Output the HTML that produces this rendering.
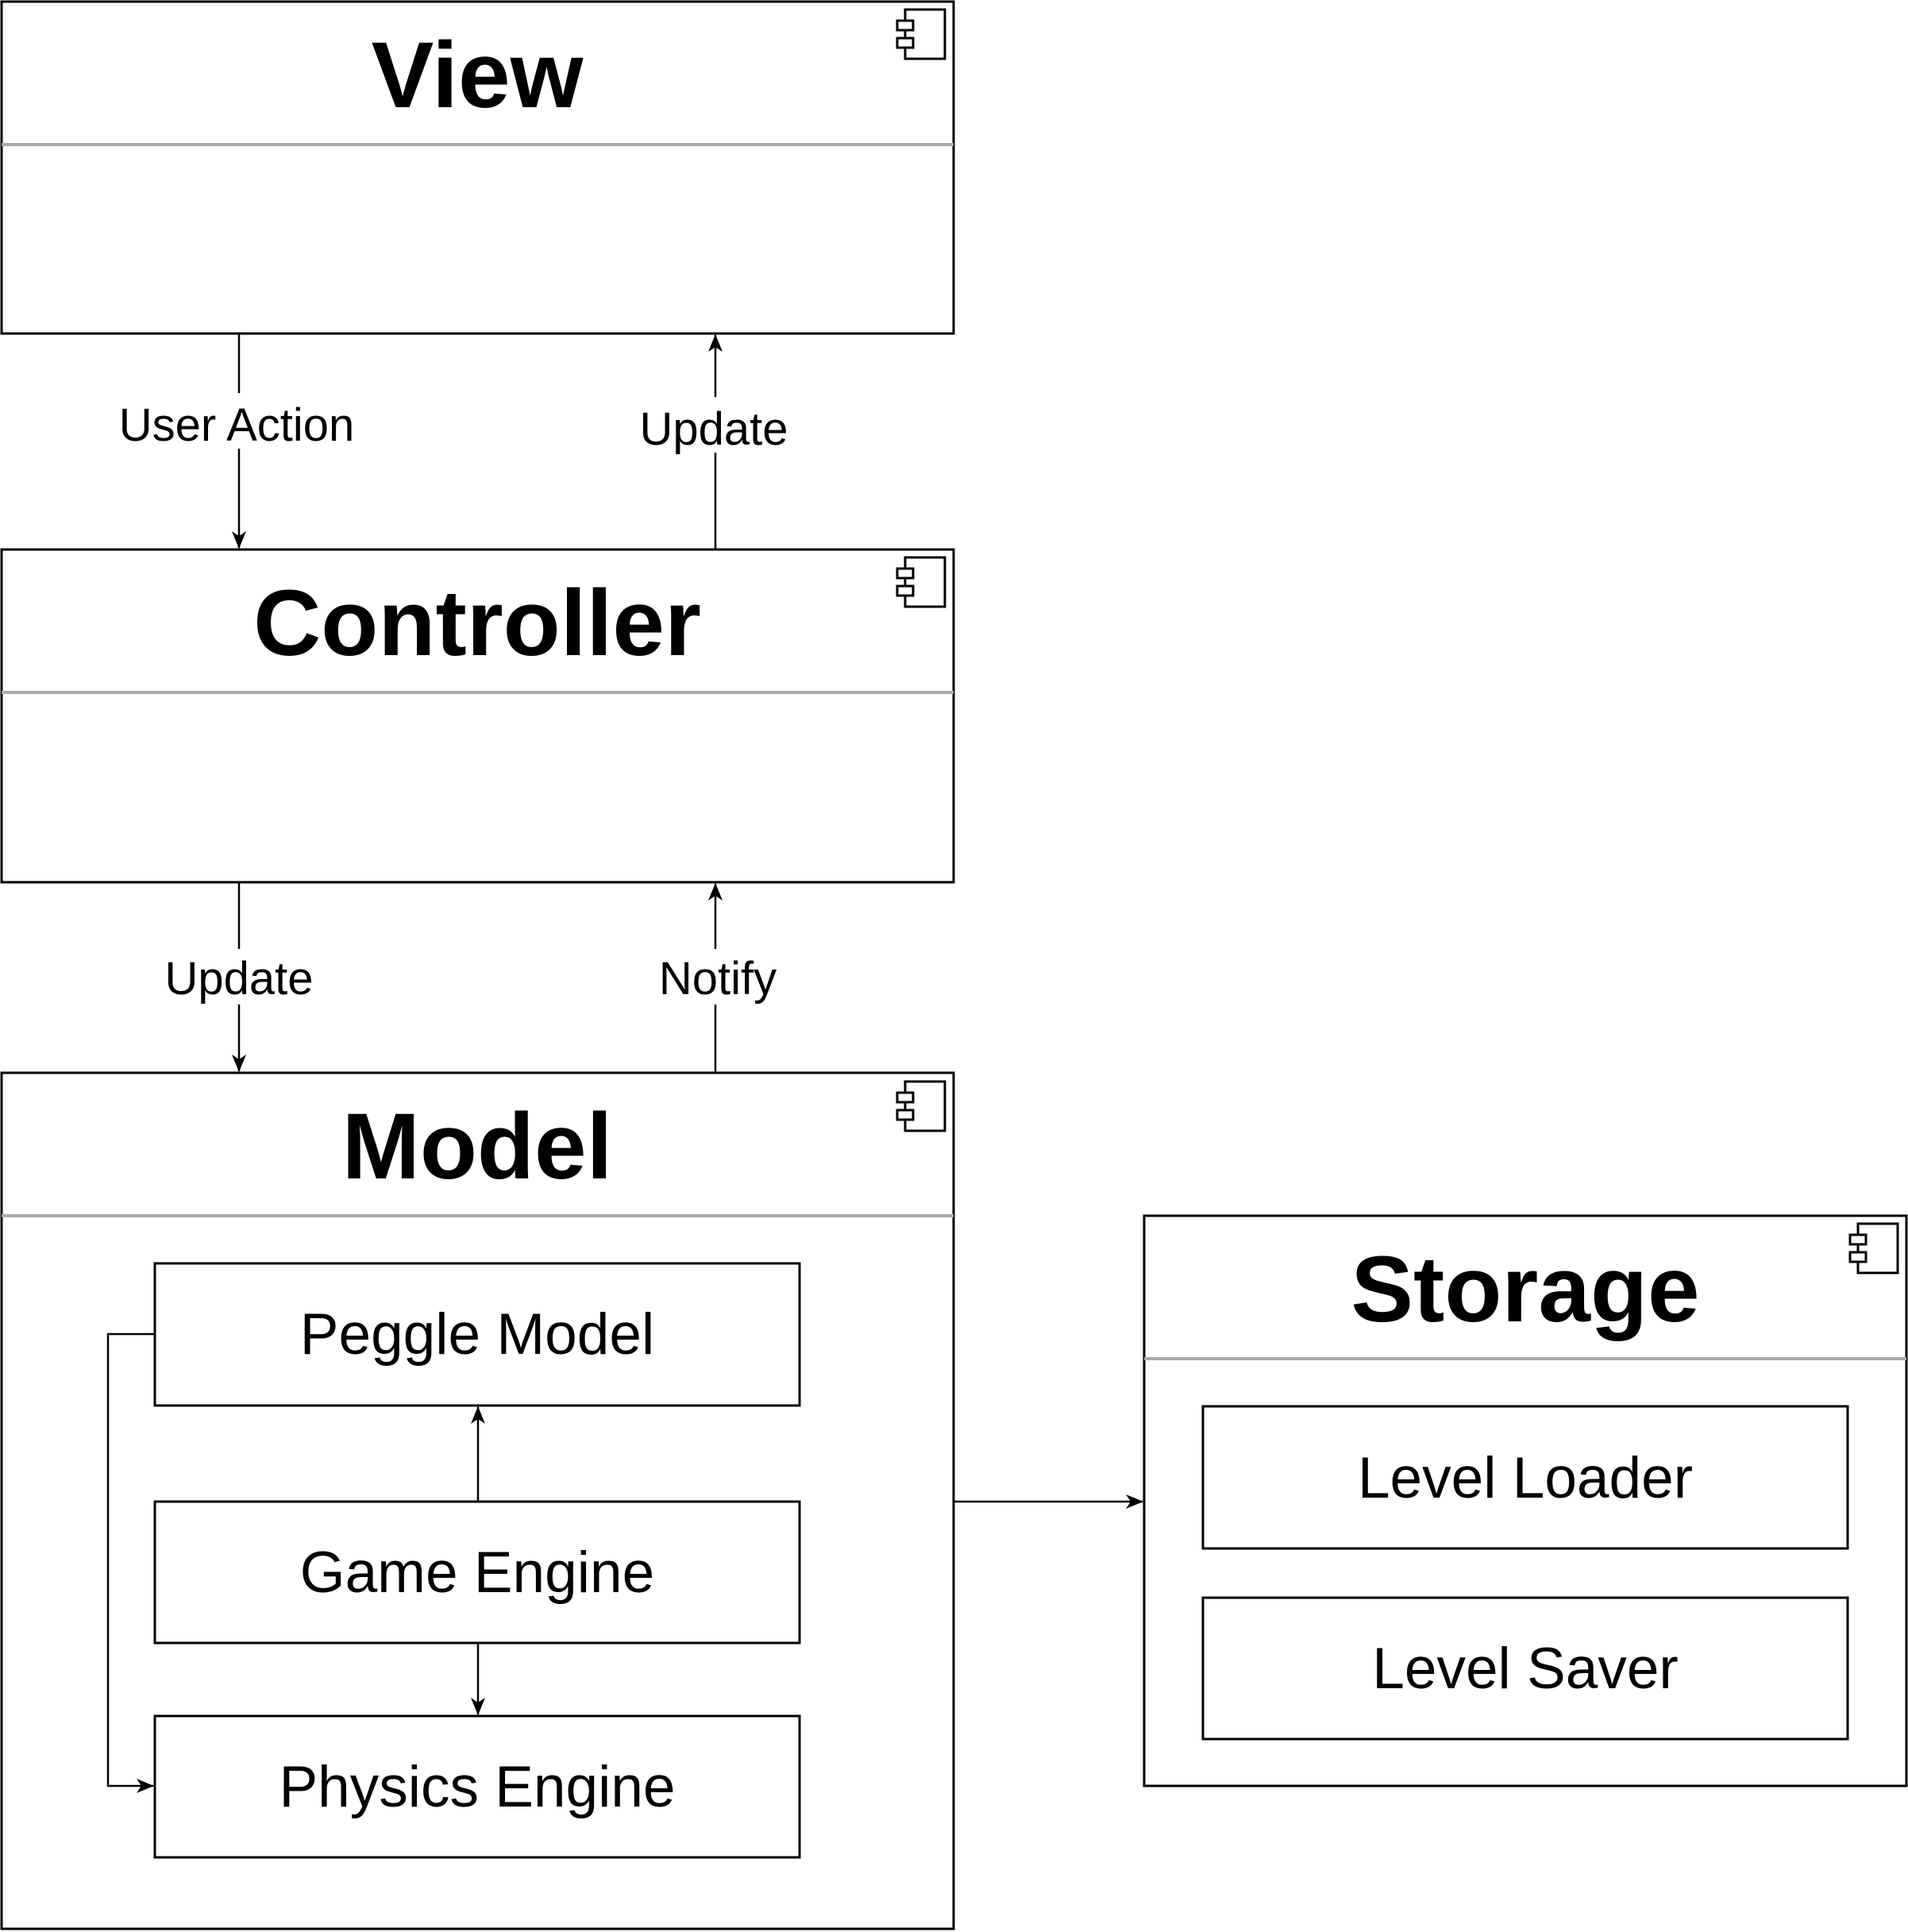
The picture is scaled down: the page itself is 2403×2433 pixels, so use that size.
<!DOCTYPE html>
<html><head><meta charset="utf-8"><style>html,body{margin:0;padding:0;background:#fff}svg{display:block}</style></head>
<body>
<svg width="2403" height="2433" viewBox="0 0 2403 2433" xmlns="http://www.w3.org/2000/svg" font-family="Liberation Sans, Arial, sans-serif">
<defs>
<marker id="a" markerWidth="22" markerHeight="18" refX="21" refY="9" orient="auto" markerUnits="userSpaceOnUse">
<path d="M0,0 L22,9 L0,18 L6,9 Z" fill="#000"/></marker>
<g id="ic"><rect x="10" y="0" width="50" height="62" fill="#fff" stroke="#000" stroke-width="3"/><rect x="0" y="14" width="20" height="12" fill="#fff" stroke="#000" stroke-width="3"/><rect x="0" y="36" width="20" height="12" fill="#fff" stroke="#000" stroke-width="3"/></g>
</defs>
<g fill="none" stroke="#000" stroke-width="3">
<rect x="2" y="2" width="1199" height="418"/>
<rect x="2" y="692" width="1199" height="419"/>
<rect x="2" y="1351" width="1199" height="1078"/>
<rect x="1441" y="1531" width="960" height="718"/>
<rect x="195" y="1591" width="812" height="179"/>
<rect x="195" y="1891" width="812" height="178"/>
<rect x="195" y="2161" width="812" height="178"/>
<rect x="1515" y="1771" width="812" height="179"/>
<rect x="1515" y="2012" width="812" height="178"/>
</g>
<g stroke="#aaa" stroke-width="4">
<line x1="2" y1="182" x2="1201" y2="182"/>
<line x1="2" y1="872" x2="1201" y2="872"/>
<line x1="2" y1="1531" x2="1201" y2="1531"/>
<line x1="1441" y1="1711" x2="2401" y2="1711"/>
</g>
<use href="#ic" x="1130" y="12"/>
<use href="#ic" x="1130" y="702"/>
<use href="#ic" x="1130" y="1362"/>
<use href="#ic" x="2330" y="1541"/>
<g stroke="#000" stroke-width="2.5" fill="none">
<line x1="301" y1="420" x2="301" y2="690" marker-end="url(#a)"/>
<line x1="901" y1="692" x2="901" y2="422" marker-end="url(#a)"/>
<line x1="301" y1="1111" x2="301" y2="1349" marker-end="url(#a)"/>
<line x1="901" y1="1351" x2="901" y2="1113" marker-end="url(#a)"/>
<line x1="602" y1="1891" x2="602" y2="1772" marker-end="url(#a)"/>
<line x1="602" y1="2069" x2="602" y2="2159" marker-end="url(#a)"/>
<polyline points="195,1680 136,1680 136,2249 193,2249" marker-end="url(#a)"/>
<line x1="1201" y1="1891" x2="1439" y2="1891" marker-end="url(#a)"/>
</g>
<g text-anchor="middle" font-size="58">
<rect x="140" y="495" width="320" height="70" fill="#fff"/>
<text x="298" y="555">User Action</text>
<rect x="795" y="500" width="210" height="70" fill="#fff"/>
<text x="899" y="560">Update</text>
<rect x="200" y="1195" width="200" height="70" fill="#fff"/>
<text x="301" y="1252">Update</text>
<rect x="820" y="1195" width="170" height="70" fill="#fff"/>
<text x="904" y="1252">Notify</text>
</g>
<g text-anchor="middle" font-size="118" font-weight="bold">
<text x="601" y="135">View</text>
<text x="601" y="825">Controller</text>
<text x="601" y="1484">Model</text>
<text x="1921" y="1664">Storage</text>
</g>
<g text-anchor="middle" font-size="73">
<text x="601" y="1705">Peggle Model</text>
<text x="601" y="2005">Game Engine</text>
<text x="601" y="2275">Physics Engine</text>
<text x="1921" y="1886">Level Loader</text>
<text x="1921" y="2126">Level Saver</text>
</g>
</svg>
</body></html>
